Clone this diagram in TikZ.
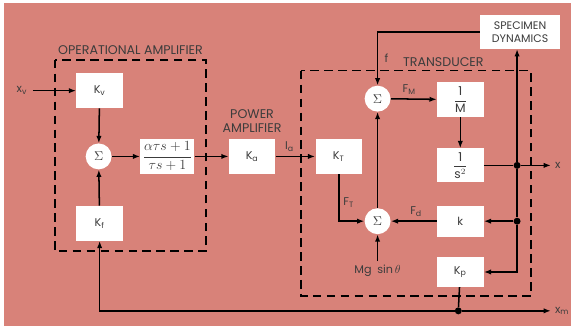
\documentclass[tikz,border=0pt]{standalone}
\usepackage{amsmath}
\usepackage{fontspec}
\setmainfont{Poppins}
\usetikzlibrary{arrows.meta}

\definecolor{platepink}{RGB}{216,130,121}
\definecolor{inkgray}{RGB}{60,60,60}

\begin{document}
\begin{tikzpicture}[
    x=0.3mm,y=-0.3mm,
    font=\fontsize{9.6}{11}\selectfont,
    line join=miter,
    block/.style={fill=white, text=inkgray, inner sep=0pt,
        minimum width=14mm, minimum height=10.5mm},
    sumnode/.style={circle, fill=white, text=inkgray, inner sep=0pt,
        minimum size=7.8mm, font=\fontsize{11}{12}\selectfont},
    sig/.style={draw=black, line width=1.3pt,
        -{Latex[length=2.2mm,width=1.6mm]}},
    wire/.style={draw=black, line width=1.3pt},
    dashbox/.style={draw=black, line width=1.3pt, dash pattern=on 2.6mm off 1.6mm},
    lab/.style={text=inkgray},
    headlab/.style={text=inkgray, font=\fontsize{10.8}{12}\selectfont},
    dot/.style={circle, fill=black, inner sep=0pt, minimum size=2.1mm}
]

% plate
\fill[white] (0,0) rectangle (573,331);
\fill[platepink] (4,3) rectangle (573,327);

% dashed groups
\draw[dashbox] (55,60) rectangle (207,252);
\draw[dashbox] (302,71) rectangle (533,297);
\node[headlab] at (131,50) {OPERATIONAL AMPLIFIER};
\node[headlab] at (445,62) {TRANSDUCER};
\node[headlab, align=center] at (253,122) {POWER\\AMPLIFIER};

% blocks
\node[block] (Kv) at (100,91) {K\textsubscript{v}};
\node[sumnode] (S1) at (99,157) {$\Sigma$};
\node[block, minimum width=16.2mm, font=\fontsize{11.5}{13}\selectfont] (Gc) at (168,157)
    {$\dfrac{\alpha\tau s+1}{\tau s+1}$};
\node[block] (Kf) at (100,224) {K\textsubscript{f}};
\node[block] (Ka) at (253,157) {K\textsubscript{a}};
\node[block] (KT) at (340,157) {K\textsubscript{T}};
\node[sumnode] (S2) at (379,99) {$\Sigma$};
\node[sumnode] (S3) at (379,222) {$\Sigma$};
\node[block, font=\fontsize{10.5}{12}\selectfont] (iM) at (462,100) {$\dfrac{\mbox{1}}{\mbox{M}}$};
\node[block, minimum height=10.2mm, font=\fontsize{10.5}{12}\selectfont] (is2) at (462,166)
    {$\dfrac{\mbox{1}}{\mbox{s}^{2}}$};
\node[block, minimum height=9.3mm] (kk) at (462,222) {k};
\node[block, minimum height=9mm] (Kp) at (462,273) {K\textsubscript{p}};
\node[block, minimum width=24mm, minimum height=10.2mm, align=center,
    font=\fontsize{9.4}{10.8}\selectfont] (SD) at (522,32) {SPECIMEN\\DYNAMICS};
\node[lab] (mg) at (379,272) {Mg\enspace sin\,$\theta$};

% signal ends
\node[lab] (xv) at (22,91) {x\textsubscript{v}};
\coordinate (xvin) at (33,91);
\coordinate (xout) at (553,166);
\coordinate (xmout) at (553,312);
\node[lab, anchor=west] (xl) at (xout) {x};
\node[lab, anchor=west] (xml) at (xmout) {x\textsubscript{m}};
\node[dot] (dx) at (519,166) {};
\node[dot] (dk) at (519,222) {};
\node[dot] (dm) at (460,312) {};

% operational amplifier
\draw[sig] (xvin) -- (Kv);
\draw[sig] (Kv) -- (S1);
\draw[sig] (Kf) -- (S1);
\draw[sig] (S1) -- (Gc);
\draw[sig] (Gc) -- (Ka);
\draw[sig] (Ka) -- node[lab, above, pos=0.35] {I\textsubscript{a}} (KT);

% transducer
\draw[sig] (KT.south) |- node[lab, pos=0.3, right] {F\textsubscript{T}} (S3);
\draw[sig] (S3) -- (S2);
\draw[sig] (mg) -- (S3);
\draw[sig] (SD.west) -| node[lab, pos=0.75, right, xshift=2pt] {f} (S2);
\draw[sig] (S2) -- node[lab, above, pos=0.4] {F\textsubscript{M}} (iM);
\draw[sig] (iM) -- (is2);
\draw[wire] (is2) -- (dx);
\draw[sig] (dx) -- (xout);
\draw[sig] (dx) -- (SD.south -| dx);
\draw[wire] (dx) -- (dk);
\draw[sig] (dk) -- (kk);
\draw[sig] (dk) |- (Kp);
\draw[sig] (kk) -- node[lab, above, pos=0.45] {F\textsubscript{d}} (S3);

% feedback
\draw[wire] (Kp) -- (dm);
\draw[sig] (dm) -- (xmout);
\draw[sig] (dm) -| (Kf);
\end{tikzpicture}
\end{document}
